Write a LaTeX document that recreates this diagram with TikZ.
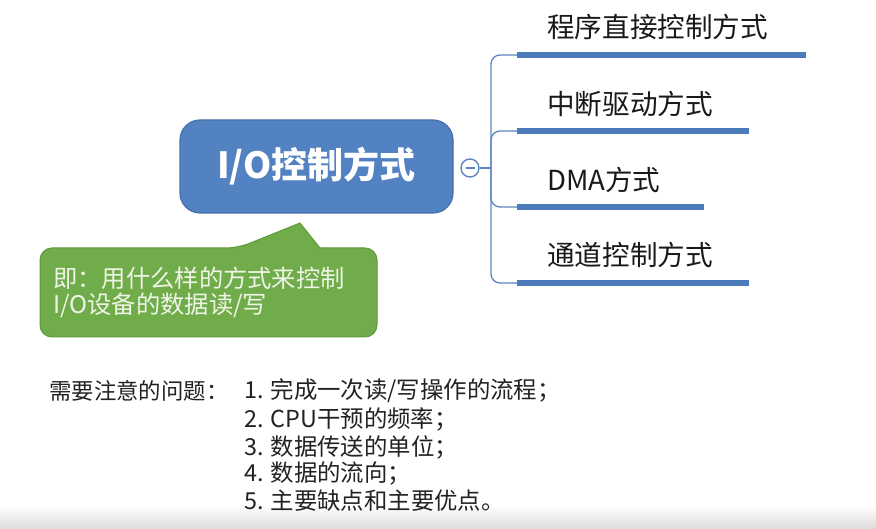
\documentclass[tikz,border=0pt]{standalone}
\usepackage{fontspec}
\setmainfont{Noto Sans CJK SC}
\usetikzlibrary{calc}
\definecolor{mainblue}{HTML}{5282C2}
\definecolor{mainborder}{HTML}{4470AA}
\definecolor{barblue}{HTML}{4C7BB9}
\definecolor{lineblue}{HTML}{5C86C0}
\definecolor{notegreen}{HTML}{70AC4A}
\definecolor{noteborder}{HTML}{5F9A3C}
\definecolor{notetext}{HTML}{EEF5E6}
\definecolor{bodytext}{HTML}{222222}
\tikzset{
  mainbox/.style={draw=mainborder, line width=1.2pt, fill=mainblue, rounded corners=20pt,
    minimum width=273pt, minimum height=93pt, text=white,
    font=\fontsize{36}{40}\selectfont\bfseries},
  toggle/.style={circle, draw=lineblue, line width=1.4pt, fill=white, minimum size=18pt, inner sep=0pt},
  branchline/.style={draw=lineblue, line width=1.3pt, rounded corners=9pt},
  barline/.style={draw=barblue, line width=6pt},
  branchlabel/.style={anchor=west, inner sep=0pt, text=black!90, font=\fontsize{27.6}{31}\selectfont},
  notetxt/.style={anchor=west, inner sep=0pt, text=notetext, font=\fontsize{24.3}{27}\selectfont},
  qhead/.style={anchor=west, inner sep=0pt, text=bodytext, font=\fontsize{22.4}{26}\selectfont},
  qtxt/.style={anchor=west, inner sep=0pt, text=bodytext, font=\fontsize{23.4}{26}\selectfont},
}
\begin{document}
\begin{tikzpicture}[x=1pt,y=-1pt]
\useasboundingbox (0,0) rectangle (876,529);
\fill[white] (0,0) rectangle (876,529);
\shade[top color=white, bottom color=black!14] (0,505) rectangle (876,529);

% green callout
\draw[fill=notegreen, draw=noteborder, line width=1pt, rounded corners=12pt]
  (40,248) -- (238,248) [sharp corners] -- (300,223) -- (320,248) [rounded corners=12pt]
  -- (377,248) -- (377,337) -- (40,337) -- cycle;
\node[notetxt] (note1) at (53,278) {即：用什么样的方式来控制};
\node[notetxt] (note2) at (53,305) {I/O设备的数据读/写};

% main node
\node[mainbox] (main) at (316.5,166.5) {I/O控制方式};
\node[toggle] (tog) at (470,168) {};
\draw[lineblue, line width=1.6pt] ($(tog.center)+(-4.5,0)$) -- ($(tog.center)+(4.5,0)$);

\coordinate (jn) at (491,168);
\coordinate (b1) at (517,55);  \coordinate (b1e) at (806,55);
\coordinate (b2) at (517,131); \coordinate (b2e) at (749,131);
\coordinate (b3) at (517,207); \coordinate (b3e) at (704,207);
\coordinate (b4) at (517,283); \coordinate (b4e) at (749,283);

\draw[branchline] (tog.east) -- (jn);
\draw[branchline] (jn) |- (b1);
\draw[branchline] (jn) |- (b2);
\draw[branchline] (jn) |- (b3);
\draw[branchline] (jn) |- (b4);

\draw[barline] (b1) -- (b1e);
\draw[barline] (b2) -- (b2e);
\draw[barline] (b3) -- (b3e);
\draw[barline] (b4) -- (b4e);

\node[branchlabel] (l1) at (547,27) {程序直接控制方式};
\node[branchlabel] (l2) at (547,104) {中断驱动方式};
\node[branchlabel] (l3) at (547,180) {DMA方式};
\node[branchlabel] (l4) at (547,255) {通道控制方式};

% questions
\node[qhead] (qh) at (49,391) {需要注意的问题：};
\node[qtxt] (q1) at (244,391) {1. 完成一次读/写操作的流程；};
\node[qtxt] (q2) at (244,419) {2. CPU干预的频率；};
\node[qtxt] (q3) at (244,447) {3. 数据传送的单位；};
\node[qtxt] (q4) at (244,474) {4. 数据的流向；};
\node[qtxt] (q5) at (244,501) {5. 主要缺点和主要优点。};
\end{tikzpicture}
\end{document}
